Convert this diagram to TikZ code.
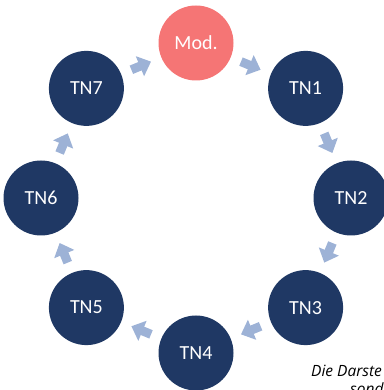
\documentclass[tikz,border=0pt]{standalone}
\usepackage{fontspec}
\setmainfont{Carlito}
\newfontfamily\captfont{Open Sans}
\usetikzlibrary{arrows.meta, calc}
\definecolor{cnavy}{RGB}{31,56,100}
\definecolor{cmod}{RGB}{245,117,117}
\definecolor{cpfeil}{RGB}{157,178,214}

\begin{document}
\begin{tikzpicture}[x=1pt, y=1pt,
    tn/.style={circle, fill=cnavy, minimum size=75pt, inner sep=0pt, text=white, font=\fontsize{20}{24}\selectfont},
    moder/.style={tn, fill=cmod},
    blk/.style={draw=cpfeil, line width=9pt, -{Triangle[length=12pt, width=21pt]}, shorten <=11pt, shorten >=11pt},
    capt/.style={inner sep=0pt, font=\captfont\fontsize{15.5}{19}\selectfont\itshape}]

  \useasboundingbox (0,0) rectangle (383,390);
  \coordinate (mitte) at (196,192);

  % Ring der Teilnehmer
  \node[moder] (mod) at ($(mitte)+(90:155)$) {Mod.};
  \node[tn] (tn1) at ($(mitte)+(45:155)$) {TN1};
  \node[tn] (tn2) at ($(mitte)+(0:155)$) {TN2};
  \node[tn] (tn3) at ($(mitte)+(-45:155)$) {TN3};
  \node[tn] (tn4) at ($(mitte)+(-90:155)$) {TN4};
  \node[tn] (tn5) at ($(mitte)+(-135:155)$) {TN5};
  \node[tn] (tn6) at ($(mitte)+(180:155)$) {TN6};
  \node[tn] (tn7) at ($(mitte)+(135:155)$) {TN7};

  % Weitergabe im Uhrzeigersinn
  \draw[blk] (mod) -- (tn1);
  \draw[blk] (tn1) -- (tn2);
  \draw[blk] (tn2) -- (tn3);
  \draw[blk] (tn3) -- (tn4);
  \draw[blk] (tn4) -- (tn5);
  \draw[blk] (tn5) -- (tn6);
  \draw[blk] (tn6) -- (tn7);
  \draw[blk] (tn7) -- (mod);

  % abgeschnittene Bildunterschrift
  \node[capt, anchor=base west] (capa) at (311,13) {Die Darste};
  \node[capt, anchor=base west] (capb) at (350,-5) {sond};
\end{tikzpicture}
\end{document}
